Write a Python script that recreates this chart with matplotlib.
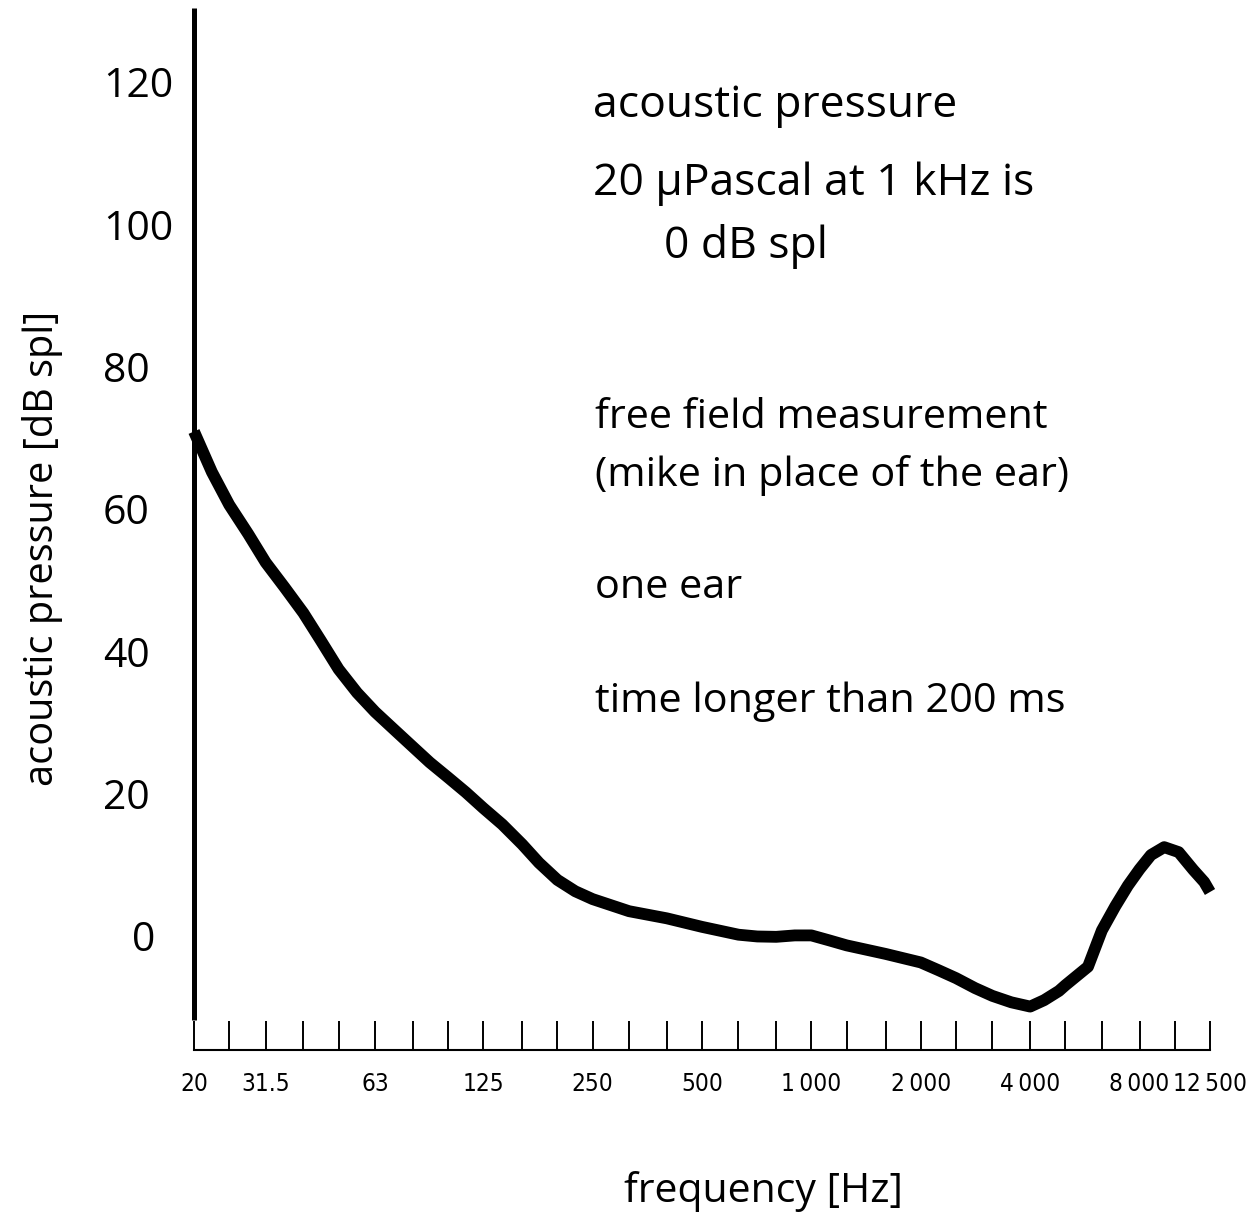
import matplotlib
matplotlib.use("Agg")
import matplotlib.pyplot as plt
import matplotlib.transforms as mtrans
from matplotlib.ticker import NullLocator
from matplotlib import font_manager

# ---------------- data ----------------
band_freqs = [20, 25, 31.5, 40, 50, 63, 80, 100, 125, 160, 200, 250, 315, 400,
              500, 630, 800, 1000, 1250, 1600, 2000, 2500, 3150, 4000, 5000,
              6300, 8000, 10000, 12500]
band_labels = ["20", "", "31.5", "", "", "63", "", "", "125", "", "", "250", "", "",
               "500", "", "", "1\u2009000", "", "", "2\u2009000", "", "", "4\u2009000",
               "", "", "8\u2009000", "", "12\u2009500"]

# hearing threshold curve (frequency in Hz, level in dB spl)
curve_freq = [20, 22.4, 25, 28.2, 31.5, 35.5, 40, 44.7, 50, 56.2, 63, 70.8, 80,
              89.1, 100, 112, 125, 141, 160, 178, 200, 224, 250, 315, 400, 500,
              630, 710, 800, 900, 1000, 1120, 1250, 1600, 2000, 2240, 2500, 2820,
              3150, 3550, 4000, 4370, 4800, 5000, 5770, 6300, 6860, 7430, 8000,
              8600, 9350, 10250, 11250, 12050, 12500]
curve_db = [71.0, 65.3, 60.7, 56.6, 52.6, 49.1, 45.5, 41.6, 37.6, 34.3, 31.6,
            29.2, 26.7, 24.5, 22.4, 20.3, 18.1, 15.8, 13.0, 10.4, 8.0, 6.4,
            5.3, 3.6, 2.6, 1.4, 0.3, 0.05, 0.0, 0.2, 0.2, -0.5, -1.2, -2.4,
            -3.6, -4.7, -5.8, -7.2, -8.3, -9.2, -9.8, -8.9, -7.6, -6.8, -4.2,
            0.9, 4.3, 7.2, 9.5, 11.5, 12.6, 11.9, 9.4, 7.7, 6.3]

y_values = [0, 20, 40, 60, 80, 100, 120]
y_labels = ["0", "20", "40", "60", "80", "100", "120"]

notes = ["acoustic pressure", "20 \u03bcPascal at 1 kHz is", "0 dB spl",
         "free field measurement", "(mike in place of the ear)", "one ear",
         "time longer than 200 ms"]

# ---------------- figure ----------------
W, H = 1251, 1218
DPI = 100
fig = plt.figure(figsize=(W / DPI, H / DPI), dpi=DPI)


def fx(px):
    return px / W


def fy(py):
    return 1 - py / H


MAIN = ["Open Sans", "DejaVu Sans"]

# pick a narrow face for the frequency labels if one is installed
flist = font_manager.fontManager.ttflist
tick_kw = dict(fontfamily=["Liberation Sans", "DejaVu Sans"], fontsize=15)
if any(f.name == "Liberation Sans Narrow" for f in flist):
    tick_kw = dict(fontfamily=["Liberation Sans Narrow", "DejaVu Sans"], fontsize=18)
elif any(f.name == "DejaVu Sans" and f.stretch == "condensed" for f in flist):
    tick_kw = dict(fontfamily=["DejaVu Sans"], fontstretch="condensed", fontsize=17.5)

ax = fig.add_axes([fx(194), fy(1050), fx(1210) - fx(194), fy(8) - fy(1050)])
ax.set_xscale("log")
ax.set_xlim(20, 12500)
ax.set_ylim(-15.9, 130.5)

ax.plot(curve_freq, curve_db, color="black", lw=8.5,
        solid_capstyle="butt", solid_joinstyle="round", clip_on=False, zorder=3)

for s in ("top", "right"):
    ax.spines[s].set_visible(False)
ax.spines["left"].set_linewidth(3.6)
ax.spines["left"].set_bounds(-11.66, 130.5)
ax.spines["left"].set_capstyle("butt")
ax.spines["bottom"].set_linewidth(1.5)

ax.set_xticks(band_freqs)
ax.set_xticklabels(band_labels, **tick_kw)
ax.xaxis.set_minor_locator(NullLocator())
ax.tick_params(axis="x", direction="in", length=21, width=1.4, pad=16, color="black")
ax.set_yticks([])
ax.tick_params(axis="y", left=False, labelleft=False)

# y tick labels (left-aligned, "0" sits further right)
ytrans = ax.get_yaxis_transform()
for v, lab in zip(y_values, y_labels):
    dx = 29 if lab == "0" else 0
    off = mtrans.ScaledTranslation(dx / DPI, -14.5 / DPI, fig.dpi_scale_trans)
    ax.text((103 - 194) / 1016, v, lab, transform=ytrans + off,
            ha="left", va="baseline", fontsize=29.5, fontfamily=MAIN)

# y axis label
fig.text(fx(53), fy(548), "acoustic pressure [dB spl]", rotation=90,
         rotation_mode="anchor", ha="center", va="baseline",
         fontsize=28.6, fontfamily=MAIN)

# x axis label
fig.text(fx(763), fy(1202), "frequency [Hz]", ha="center", va="baseline",
         fontsize=29.5, fontfamily=MAIN)

# annotations
note_pos = [(593, 117), (593, 195), (664, 258), (595, 428), (595, 486),
            (595, 598), (595, 712)]
note_size = [32, 32, 32, 29.8, 29.8, 29.8, 29.8]
for (px, py), t, fs in zip(note_pos, notes, note_size):
    fig.text(fx(px), fy(py), t, ha="left", va="baseline", fontsize=fs,
             fontfamily=["Open Sans", "DejaVu Serif"])

fig.savefig("out.png", dpi=DPI, facecolor="white")
